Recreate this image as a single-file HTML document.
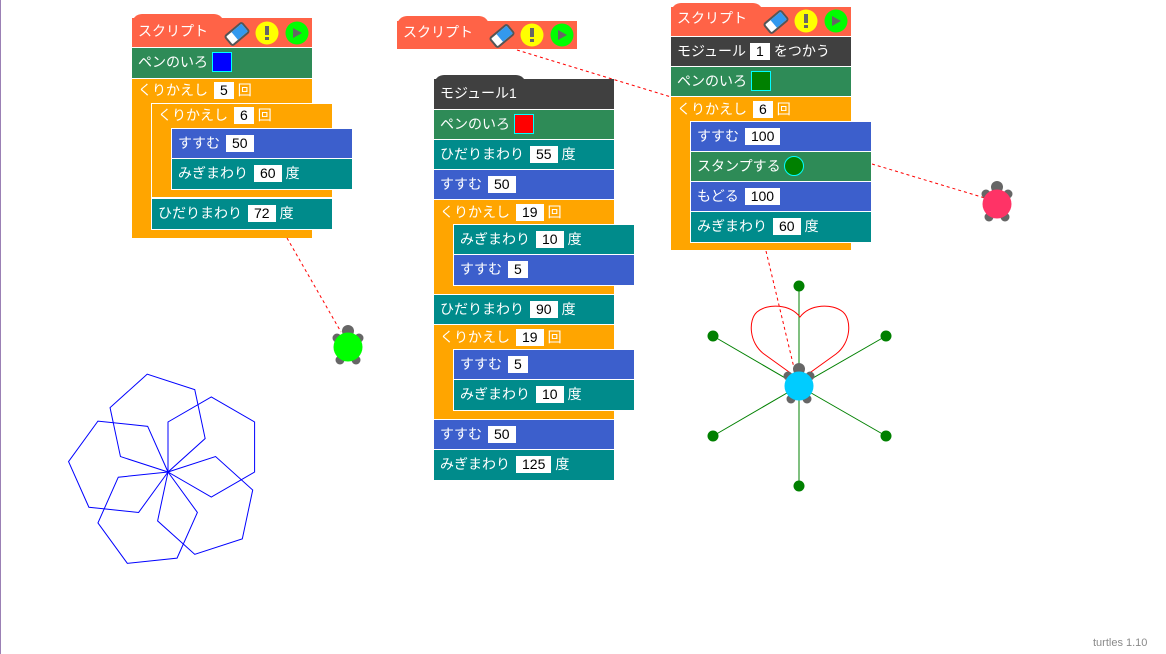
<!DOCTYPE html>
<html><head><meta charset="utf-8"><style>
html,body{margin:0;padding:0;background:#fff;}
body{width:1166px;height:654px;position:relative;overflow:hidden;font-family:"Liberation Sans","Noto Sans CJK JP",sans-serif;}
.b{position:absolute;box-sizing:border-box;color:#fff;font-size:14px;padding-left:6px;white-space:nowrap;}
.r{height:30px;line-height:29px;}
.i{outline:1px solid #fff;}
.h{background:#ff6347;}
.tab{position:absolute;background:#ff6347;border-radius:10px 10px 0 0;height:10px;}
.dk{background:#404040;}
.pen{background:#2e8b57;}
.rep{background:#ffa500;}
.fd{background:#3c5fcc;}
.tn{background:#008b8b;}
.v{display:inline-block;background:#fff;color:#000;height:17px;line-height:17px;padding:0 6px;margin:0 4px 0 6px;vertical-align:middle;position:relative;top:-1px;}
.sw{display:inline-block;width:18px;height:18px;border:1px solid #0ff;vertical-align:middle;margin-left:4px;position:relative;top:-1px;}
svg{position:absolute;left:0;top:0;}
</style></head><body>
<div style="position:absolute;left:0;top:0;width:1px;height:654px;background:#9b80b5"></div>

<svg width="1166" height="654">
 <defs>
  <polygon id="hx" points="168,472 168,422 211.3,397 254.6,422 254.6,472 211.3,497" fill="none" stroke="#0000ff" stroke-width="1"/>
 </defs>
 <use href="#hx"/>
 <use href="#hx" transform="rotate(72 168 472)"/>
 <use href="#hx" transform="rotate(144 168 472)"/>
 <use href="#hx" transform="rotate(216 168 472)"/>
 <use href="#hx" transform="rotate(288 168 472)"/>
 <!-- star -->
 <g stroke="#008000" stroke-width="1">
  <line x1="799" y1="386" x2="799" y2="286"/><line x1="799" y1="386" x2="799" y2="486"/>
  <line x1="799" y1="386" x2="886" y2="336"/><line x1="799" y1="386" x2="886" y2="436"/>
  <line x1="799" y1="386" x2="713" y2="336"/><line x1="799" y1="386" x2="713" y2="436"/>
 </g>
 <g fill="#008000">
  <circle cx="799" cy="286" r="5.5"/><circle cx="799" cy="486" r="5.5"/>
  <circle cx="886" cy="336" r="5.5"/><circle cx="886" cy="436" r="5.5"/>
  <circle cx="713" cy="336" r="5.5"/><circle cx="713" cy="436" r="5.5"/>
 </g>
 <path d="M796,377 L764,354 C749,343 748,320 757,312 C768,303 790,304 800,317 C810,304 832,303 843,312 C852,320 851,343 836,354 L804,377" fill="none" stroke="#ff0000" stroke-width="1"/>
 <!-- dashed connectors -->
 <g stroke="#ff0000" stroke-width="1" stroke-dasharray="3,3" fill="none">
  <line x1="287" y1="238" x2="341" y2="332"/>
  <line x1="517" y1="50" x2="671" y2="97"/>
  <line x1="766" y1="251" x2="795" y2="372"/>
  <line x1="872" y1="164" x2="985" y2="198"/>
 </g>
 <!-- turtles -->
 <g fill="#666">
  <circle cx="348" cy="331" r="6"/><circle cx="337" cy="338" r="4.5"/><circle cx="359" cy="338" r="4.5"/><circle cx="340" cy="360" r="4.5"/><circle cx="356" cy="360" r="4.5"/>
  <circle cx="799" cy="369" r="6"/><circle cx="788" cy="376" r="4.5"/><circle cx="810" cy="376" r="4.5"/><circle cx="791" cy="399" r="4.5"/><circle cx="807" cy="399" r="4.5"/>
  <circle cx="997" cy="187" r="6"/><circle cx="986" cy="194" r="4.5"/><circle cx="1008" cy="194" r="4.5"/><circle cx="989" cy="217" r="4.5"/><circle cx="1005" cy="217" r="4.5"/>
 </g>
 <circle cx="348" cy="347" r="14.5" fill="#00ff00"/>
 <circle cx="799" cy="386" r="14.5" fill="#00ccff"/>
 <circle cx="997" cy="204" r="14.5" fill="#ff3366"/>
</svg>

<!-- Script 1 -->
<div class="tab" style="left:132px;top:14px;width:92px"></div>
<div class="b h" style="left:132px;top:18px;width:180px;height:29px;line-height:26px">スクリプト</div>
<div class="b pen r" style="left:132px;top:48px;width:180px">ペンのいろ<span class="sw" style="background:#0000ff"></span></div>
<div class="b rep" style="left:132px;top:79px;width:180px;height:159px;line-height:22px;padding-top:0">くりかえし<span class="v">5</span>回</div>
<div class="b rep i" style="left:152px;top:104px;width:180px;height:93px;line-height:22px">くりかえし<span class="v">6</span>回</div>
<div class="b fd r i" style="left:172px;top:129px;width:180px">すすむ<span class="v">50</span></div>
<div class="b tn r i" style="left:172px;top:159px;width:180px">みぎまわり<span class="v">60</span>度</div>
<div class="b tn r i" style="left:152px;top:199px;width:180px">ひだりまわり<span class="v">72</span>度</div>

<!-- Script 2 -->
<div class="tab" style="left:397px;top:16px;width:92px"></div>
<div class="b h" style="left:397px;top:21px;width:180px;height:28px;line-height:22px">スクリプト</div>

<!-- Module 1 -->
<div class="tab" style="left:434px;top:75px;width:92px;background:#404040"></div>
<div class="b dk r" style="left:434px;top:79px;width:180px">モジュール1</div>
<div class="b pen r i" style="left:434px;top:110px;width:180px">ペンのいろ<span class="sw" style="background:#ff0000"></span></div>
<div class="b tn r i" style="left:434px;top:140px;width:180px">ひだりまわり<span class="v">55</span>度</div>
<div class="b fd r i" style="left:434px;top:170px;width:180px">すすむ<span class="v">50</span></div>
<div class="b rep i" style="left:434px;top:200px;width:180px;height:94px;line-height:24px">くりかえし<span class="v">19</span>回</div>
<div class="b tn r i" style="left:454px;top:225px;width:180px">みぎまわり<span class="v">10</span>度</div>
<div class="b fd r i" style="left:454px;top:255px;width:180px">すすむ<span class="v">5</span></div>
<div class="b tn r i" style="left:434px;top:295px;width:180px">ひだりまわり<span class="v">90</span>度</div>
<div class="b rep i" style="left:434px;top:325px;width:180px;height:94px;line-height:24px">くりかえし<span class="v">19</span>回</div>
<div class="b fd r i" style="left:454px;top:350px;width:180px">すすむ<span class="v">5</span></div>
<div class="b tn r i" style="left:454px;top:380px;width:180px">みぎまわり<span class="v">10</span>度</div>
<div class="b fd r i" style="left:434px;top:420px;width:180px">すすむ<span class="v">50</span></div>
<div class="b tn r i" style="left:434px;top:450px;width:180px">みぎまわり<span class="v">125</span>度</div>

<!-- Script 3 -->
<div class="tab" style="left:671px;top:3px;width:92px"></div>
<div class="b h" style="left:671px;top:7px;width:180px;height:29px;line-height:22px">スクリプト</div>
<div class="b dk r" style="left:671px;top:37px;width:180px">モジュール<span class="v" style="margin-left:4px">1</span>をつかう</div>
<div class="b pen r i" style="left:671px;top:67px;width:180px">ペンのいろ<span class="sw" style="background:#008000"></span></div>
<div class="b rep i" style="left:671px;top:97px;width:180px;height:153px;line-height:24px">くりかえし<span class="v">6</span>回</div>
<div class="b fd r i" style="left:691px;top:122px;width:180px">すすむ<span class="v">100</span></div>
<div class="b pen r i" style="left:691px;top:152px;width:180px">スタンプする<span style="display:inline-block;width:18px;height:18px;border-radius:50%;background:#008000;border:1px solid #0ff;vertical-align:middle;margin-left:3px;position:relative;top:-1px"></span></div>
<div class="b fd r i" style="left:691px;top:182px;width:180px">もどる<span class="v">100</span></div>
<div class="b tn r i" style="left:691px;top:212px;width:180px">みぎまわり<span class="v">60</span>度</div>

<!-- header icons -->
<svg width="1166" height="654" style="pointer-events:none">
 <defs>
  <g id="ic">
   <g transform="rotate(-40)">
    <rect x="-11" y="-6" width="22" height="12" rx="2" fill="#fff" stroke="#555" stroke-width="2"/>
    <rect x="-3" y="-5" width="13" height="10" fill="#3399ee"/>
   </g>
   <circle cx="30" cy="-1" r="11.5" fill="#ffff00"/>
   <rect x="28" y="-8" width="4" height="9" fill="#666"/><rect x="28" y="3" width="4" height="3" fill="#666"/>
   <circle cx="60" cy="-1" r="11.5" fill="#00ff00"/>
   <polygon points="56,-6 56,4 65,-1" fill="#666"/>
  </g>
 </defs>
 <use href="#ic" transform="translate(237,34)"/>
 <use href="#ic" transform="translate(502,36)"/>
 <use href="#ic" transform="translate(776,22)"/>
</svg>

<div style="position:absolute;left:1093px;top:637px;font-size:11px;color:#8a8a8a;font-family:'Liberation Sans',sans-serif">turtles 1.10</div>
</body></html>
